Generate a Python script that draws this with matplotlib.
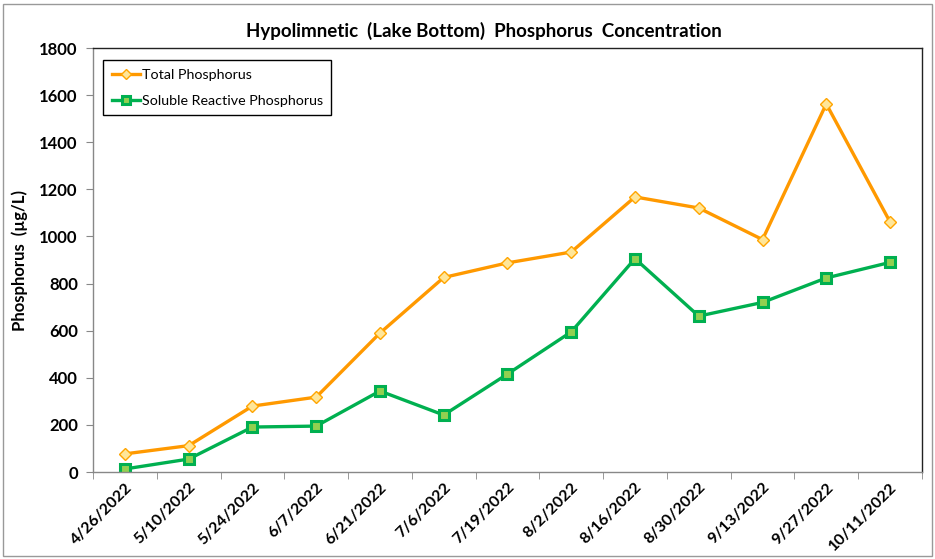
import matplotlib.pyplot as plt
import numpy as np

dates = ["4/26/2022", "5/10/2022", "5/24/2022", "6/7/2022", "6/21/2022", "7/6/2022",
         "7/19/2022", "8/2/2022", "8/16/2022", "8/30/2022", "9/13/2022", "9/27/2022",
         "10/11/2022"]
total_p = [77, 112, 280, 318, 590, 826, 888, 934, 1168, 1121, 987, 1563, 1062]
srp = [13, 55, 191, 195, 344, 242, 416, 595, 906, 662, 720, 824, 890]

plt.rcParams['font.family'] = ['Lato', 'DejaVu Sans']

fig = plt.figure(figsize=(9.35, 5.59), dpi=100)
ax = fig.add_axes([0.0995, 0.1556, 0.8865, 0.7584])

x = np.arange(len(dates))
ax.plot(x, total_p, color='#FF9900', lw=2.4, marker='D', ms=6.5,
        mfc='#FFE699', mec='#FFA500', mew=1.0, label='Total Phosphorus')
ax.plot(x, srp, color='#00B050', lw=2.4, marker='s', ms=6.5,
        mfc='#92D050', mec='#00B050', mew=2.2, label='Soluble Reactive Phosphorus')

ax.set_xlim(-0.5, len(dates) - 0.5)
ax.set_ylim(0, 1800)
ax.set_yticks(range(0, 1801, 200))
ax.set_xticks(x)
ax.set_xticklabels(dates, rotation=45, ha='right', rotation_mode='anchor',
                   fontsize=11.5, fontweight='bold')
ax.set_xticks(np.arange(-0.5, len(dates)), minor=True)
ax.tick_params(axis='x', which='major', length=0, pad=6)
ax.tick_params(axis='x', which='minor', length=5, color='#888888')
ax.tick_params(axis='y', length=5, color='#888888', labelsize=12, pad=6)
for lab in ax.get_yticklabels():
    lab.set_fontweight('bold')

for s in ['left', 'bottom']:
    ax.spines[s].set_color('#888888')
for s in ['top', 'right']:
    ax.spines[s].set_color('#222222')
for s in ax.spines.values():
    s.set_linewidth(1.0)

ax.set_ylabel('Phosphorus  (µg/L)', fontsize=12, fontweight='bold', labelpad=8)
fig.text(0.518, 0.945, 'Hypolimnetic  (Lake Bottom)  Phosphorus  Concentration',
         ha='center', va='center', fontsize=13.5, fontweight='bold')

leg = ax.legend(loc='upper left', bbox_to_anchor=(0.012, 0.972), fontsize=10.3,
                fancybox=False, edgecolor='black', framealpha=1,
                handlelength=2.0, handletextpad=0.1, labelspacing=1.0,
                borderpad=0.6, borderaxespad=0, markerscale=0.8)
leg.get_frame().set_linewidth(1.0)

fig.patches.append(plt.Rectangle((0.003, 0.005), 0.994, 0.988, transform=fig.transFigure,
                                 fill=False, edgecolor='#999999', lw=1.0))

fig.savefig('out.png', dpi=100)
